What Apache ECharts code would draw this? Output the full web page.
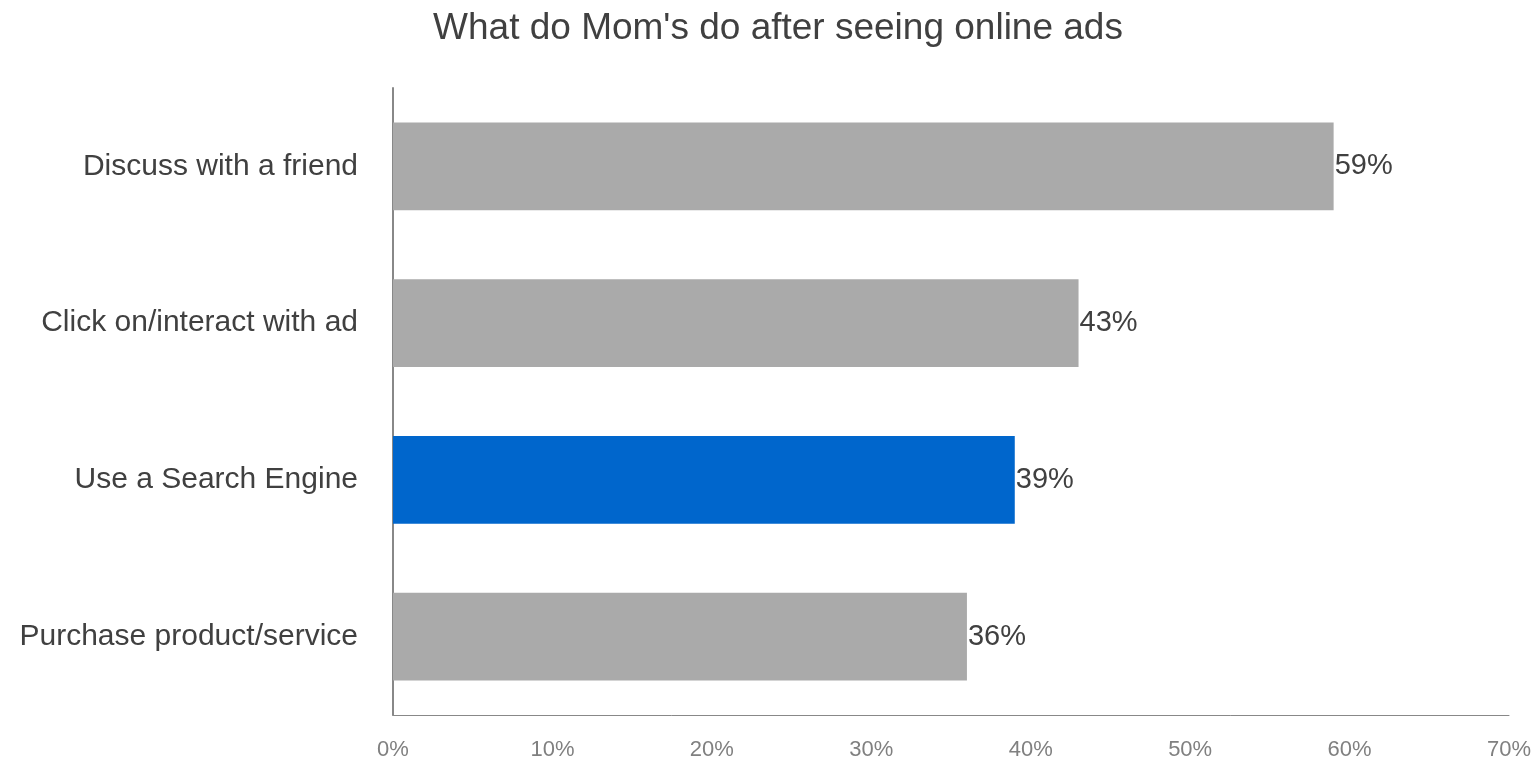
<!DOCTYPE html>
<html>
<head>
<meta charset="utf-8">
<script src="https://cdn.jsdelivr.net/npm/echarts@6/dist/echarts.min.js"></script>
<style>
  html, body { margin: 0; padding: 0; background: #fff; }
  #chart { width: 1540px; height: 761px; }
</style>
</head>
<body>
<div id="chart"></div>
<script>
// Survey answers, listed bottom-to-top as the category axis draws them
const categories = ['Purchase product/service', 'Use a Search Engine', 'Click on/interact with ad', 'Discuss with a friend'];
const shares = [36, 39, 43, 59];
const highlighted = 'Use a Search Engine';
const xTicks = [0, 10, 20, 30, 40, 50, 60, 70];

const GREY = '#aaaaaa';
const BLUE = '#0066cc';
const FONT = 'Liberation Sans, Arial, sans-serif';

const chart = echarts.init(document.getElementById('chart'), null, { renderer: 'canvas' });

chart.setOption({
  animation: false,
  textStyle: { fontFamily: FONT },
  title: {
    text: "What do Mom's do after seeing online ads",
    left: 773,
    top: 5,
    textAlign: 'center',
    textStyle: { fontSize: 37, fontWeight: 'normal', color: '#404040', fontFamily: FONT }
  },
  grid: { left: 393, right: 31, top: 88, bottom: 45, containLabel: false },
  xAxis: {
    type: 'value',
    min: xTicks[0],
    max: xTicks[xTicks.length - 1],
    interval: 10,
    axisLine: { show: true, lineStyle: { color: '#888888', width: 1 } },
    axisTick: { show: false },
    splitLine: { show: false },
    axisLabel: {
      formatter: v => v + '%',
      color: '#808080',
      fontSize: 22,
      margin: 24,
      fontFamily: FONT
    }
  },
  yAxis: {
    type: 'category',
    data: categories,
    offset: 2,
    axisLine: { show: true, lineStyle: { color: '#888888', width: 2 } },
    axisTick: { show: false },
    axisLabel: {
      color: '#404040',
      fontSize: 30,
      margin: 33,
      fontFamily: FONT
    }
  },
  series: [{
    type: 'bar',
    barCategoryGap: '44%',
    data: shares.map((v, i) => ({
      value: v,
      itemStyle: { color: categories[i] === highlighted ? BLUE : GREY }
    })),
    label: {
      show: true,
      position: 'right',
      distance: 1,
      formatter: p => p.value + '%',
      color: '#404040',
      fontSize: 29,
      fontFamily: FONT
    }
  }]
});
</script>
</body>
</html>
